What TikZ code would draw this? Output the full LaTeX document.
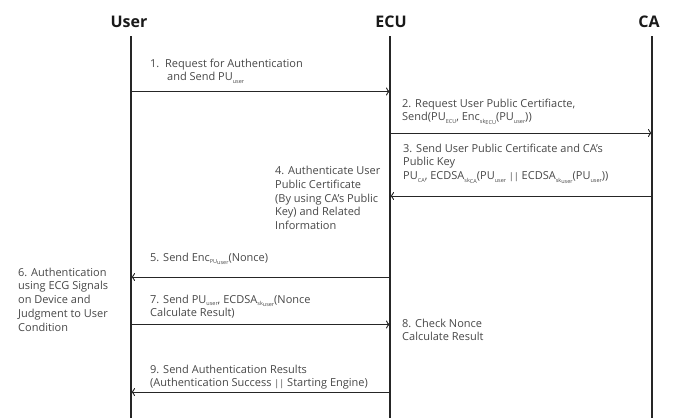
\documentclass[tikz,border=0pt]{standalone}
\usepackage{fontspec}
\setmainfont{Open Sans}
\usetikzlibrary{arrows.meta}
% small lowered text for key and entity indices
\newcommand\dn[1]{\raisebox{-0.4ex}{\fontsize{5.5}{5.5}\selectfont #1}}
\begin{document}
\begin{tikzpicture}[x=1pt,y=-1pt,
  head/.style={font=\fontsize{16}{18}\selectfont\bfseries, text=black!90, inner sep=0},
  msg/.style={font=\fontsize{11}{13.8}\selectfont, text=black!72, align=left, inner sep=0, anchor=north west},
  life/.style={line width=1.1pt, black!85},
  call/.style={line width=0.9pt, black!85, -{To[length=4pt,width=8pt]}}]
\useasboundingbox (0,0) rectangle (677,418);

% participants
\node[head] (user) at (129,21.5) {User};
\node[head] (ecu)  at (391,21.5) {ECU};
\node[head] (ca)   at (649,21.5) {CA};

% lifelines
\coordinate (ut) at (131,36);  \coordinate (ub) at (131,418);
\coordinate (et) at (390,36);  \coordinate (eb) at (390,418);
\coordinate (ct) at (652,36);  \coordinate (cb) at (652,418);
\draw[life] (ut) -- (ub);
\draw[life] (et) -- (eb);
\draw[life] (ct) -- (cb);

% message anchor points on the lifelines
\coordinate (u1) at (131,91.5);  \coordinate (e1) at (390,91.5);
\coordinate (e2) at (390,133);   \coordinate (c2) at (652,133);
\coordinate (c3) at (652,196);   \coordinate (e3) at (390,196);
\coordinate (e5) at (390,277);   \coordinate (u5) at (131,277);
\coordinate (u7) at (131,324.5); \coordinate (e7) at (390,324.5);
\coordinate (e9) at (390,392);   \coordinate (u9) at (131,392);

\draw[call] (u1) -- (e1);
\draw[call] (e2) -- (c2);
\draw[call] (c3) -- (e3);
\draw[call] (e5) -- (u5);
\draw[call] (u7) -- (e7);
\draw[call] (e9) -- (u9);

% message texts
\node[msg] (t1) at (150,58.5) {1.\ \ Request for Authentication\\\hspace*{17pt}and Send PU\dn{user}};
\node[msg] (t2) at (402,98.5) {2. Request User Public Certifiacte,\\Send(PU\dn{ECU}, Enc\dn{sk\dn{ECU}}(PU\dn{user}))};
\node[msg] (t3) at (403,143.5) {3. Send User Public Certificate and CA's\\Public Key\\PU\dn{CA}, ECDSA\dn{sk\dn{CA}}(PU\dn{user} {\fontsize{9}{9}\selectfont||} ECDSA\dn{sk\dn{user}}(PU\dn{user}))};
\node[msg] (t4) at (275,166) {4. Authenticate User\\Public Certificate\\(By using CA's Public\\Key) and Related\\Information};
\node[msg] (t5) at (150,252.5) {5. Send Enc\dn{PU\dn{user}}(Nonce)};
\node[msg] (t6) at (18,267.5) {6. Authentication\\using ECG Signals\\on Device and\\Judgment to User\\Condition};
\node[msg] (t7) at (150,294.5) {7. Send PU\dn{user}, ECDSA\dn{sk\dn{user}}(Nonce\\Calculate Result)};
\node[msg] (t8) at (402,318.5) {8. Check Nonce\\Calculate Result};
\node[msg] (t9) at (150,364.5) {9. Send Authentication Results\\(Authentication Success {\fontsize{9}{9}\selectfont||} Starting Engine)};
\end{tikzpicture}
\end{document}
